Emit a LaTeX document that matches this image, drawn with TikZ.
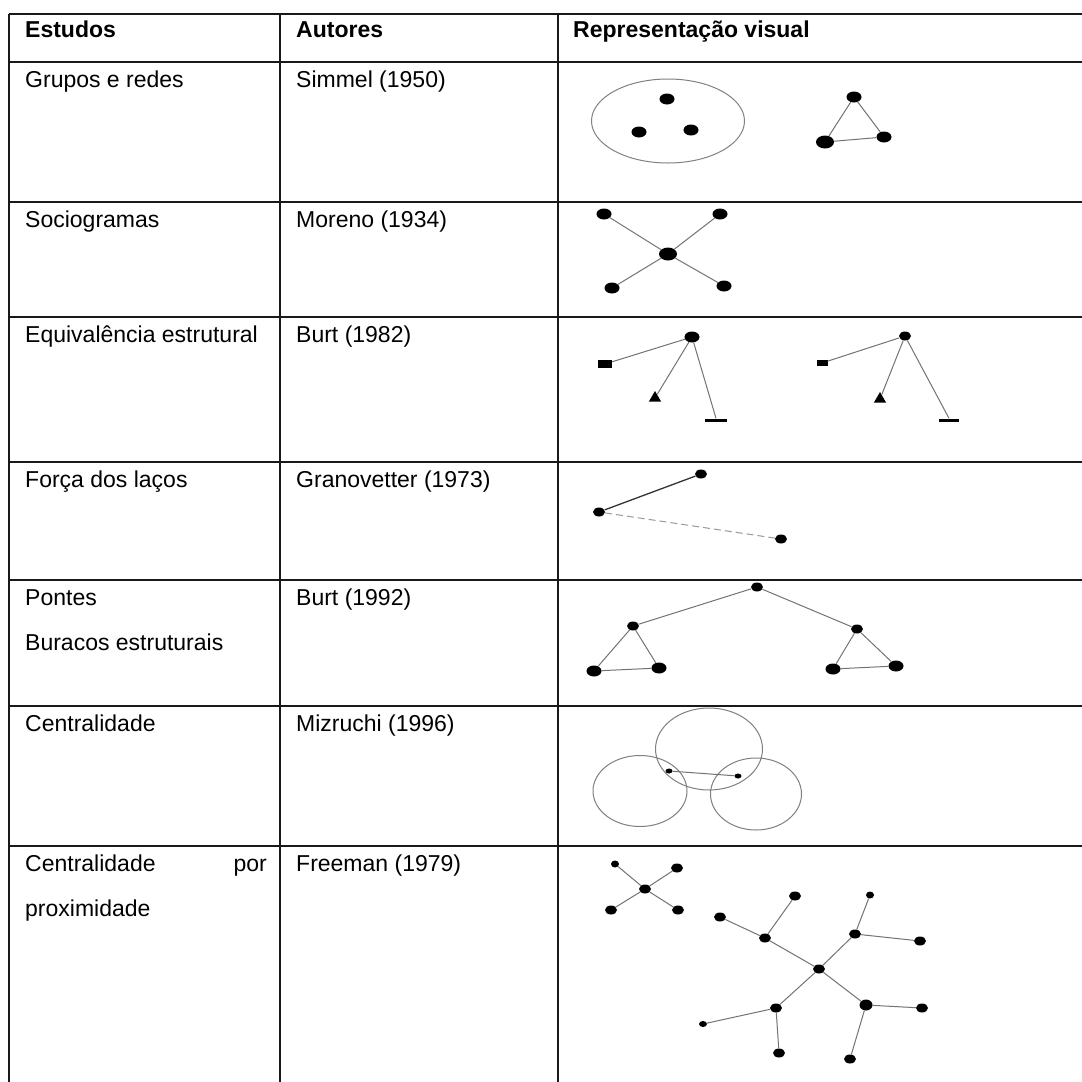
\documentclass[tikz,border=0pt]{standalone}
\usepackage{fontspec}
\setmainfont{Liberation Sans}
\usetikzlibrary{shapes.geometric}
\begin{document}
\begin{tikzpicture}[x=1pt,y=-1pt,
  rule/.style={line width=1.5pt, black!90},
  edge/.style={line width=1pt, black!55},
  strongtie/.style={line width=1.3pt, black!80},
  weaktie/.style={line width=1pt, black!40, dash pattern=on 7pt off 4pt},
  dot/.style={ellipse, fill=black, inner sep=0pt, minimum width=15pt, minimum height=11pt},
  bigdot/.style={dot, minimum width=18pt, minimum height=13pt},
  smalldot/.style={dot, minimum width=12pt, minimum height=9pt},
  tinydot/.style={dot, minimum width=7pt, minimum height=5pt},
  sqnode/.style={rectangle, fill=black, inner sep=0pt, minimum width=14pt, minimum height=8pt},
  trinode/.style={regular polygon, regular polygon sides=3, fill=black, inner sep=0pt, minimum size=14pt},
  barnode/.style={rectangle, fill=black, inner sep=0pt, minimum width=22pt, minimum height=3pt},
  txt/.style={anchor=base west, inner sep=0pt, font=\fontsize{23}{27}\selectfont},
  head/.style={txt, font=\fontsize{23}{27}\selectfont\bfseries},
  ring/.style={ellipse, draw=black!50, line width=1pt, inner sep=0pt},
]
\fill[white] (0,0) rectangle (1082,1082);
\useasboundingbox (0,0) rectangle (1082,1082);

% table rules
\foreach \y in {14,62,202,317,462,580,706,846} \draw[rule] (9,\y) -- (1082,\y);
\foreach \x in {9,280,558} \draw[rule] (\x,14) -- (\x,1082);

% header
\node[head] (hEst) at (25,37) {Estudos};
\node[head] (hAut) at (296,37) {Autores};
\node[head] (hRep) at (573,37) {Representação visual};

% first two columns
\node[txt] (e1) at (25,87) {Grupos e redes};
\node[txt] (a1) at (296,87) {Simmel (1950)};
\node[txt] (e2) at (25,227) {Sociogramas};
\node[txt] (a2) at (296,227) {Moreno (1934)};
\node[txt] (e3) at (25,342) {Equivalência estrutural};
\node[txt] (a3) at (296,342) {Burt (1982)};
\node[txt] (e4) at (25,487) {Força dos laços};
\node[txt] (a4) at (296,487) {Granovetter (1973)};
\node[txt] (e5) at (25,605) {Pontes};
\node[txt] (e5b) at (25,650) {Buracos estruturais};
\node[txt] (a5) at (296,605) {Burt (1992)};
\node[txt] (e6) at (25,731) {Centralidade};
\node[txt] (a6) at (296,731) {Mizruchi (1996)};
\node[txt] (e7) at (25,871) {Centralidade};
\node[txt, anchor=base east] (e7r) at (267,871) {por};
\node[txt] (e7b) at (25,916) {proximidade};
\node[txt] (a7) at (296,871) {Freeman (1979)};

% groups and networks
\node[ring, minimum width=153pt, minimum height=84pt] (grp) at (668,121) {};
\node[dot] (g1) at (667,99) {};
\node[dot] (g2) at (639,132) {};
\node[dot] (g3) at (691,130) {};
\node[dot] (t1) at (854,97) {};
\node[bigdot] (t2) at (825,142) {};
\node[dot] (t3) at (884,137) {};
\draw[edge] (t1) -- (t2) -- (t3) -- (t1);

% sociogram
\node[bigdot] (sc) at (668,254) {};
\node[dot] (s1) at (604,214) {};
\node[dot] (s2) at (720,214) {};
\node[dot] (s3) at (612,288) {};
\node[dot] (s4) at (724,286) {};
\foreach \n in {s1,s2,s3,s4} \draw[edge] (sc) -- (\n);

% structural equivalence
\node[dot] (q1) at (692,337) {};
\node[sqnode] (q1s) at (605,364) {};
\node[trinode] (q1t) at (655,398) {};
\node[barnode] (q1b) at (716,420) {};
\draw[edge] (q1) -- (q1s);
\draw[edge] (q1) -- (q1t);
\draw[edge] (q1) -- (q1b.north);
\node[smalldot] (q2) at (905,336) {};
\node[sqnode, minimum width=11pt, minimum height=6pt] (q2s) at (822,363) {};
\node[trinode] (q2t) at (880,399) {};
\node[barnode, minimum width=20pt] (q2b) at (949,420) {};
\draw[edge] (q2) -- (q2s);
\draw[edge] (q2) -- (q2t);
\draw[edge] (q2) -- (q2b.north);

% strength of ties
\node[smalldot] (f1) at (701,474) {};
\node[smalldot] (f2) at (599,512) {};
\node[smalldot] (f3) at (781,539) {};
\draw[strongtie] (f2) -- (f1);
\draw[weaktie] (f2) -- (f3);

% bridges and structural holes
\node[smalldot] (p0) at (757,587) {};
\node[smalldot] (pl) at (633,626) {};
\node[dot] (pl1) at (594,671) {};
\node[dot] (pl2) at (659,668) {};
\node[smalldot] (pr) at (857,629) {};
\node[dot] (pr1) at (833,669) {};
\node[dot] (pr2) at (896,666) {};
\draw[edge] (pl) -- (p0) -- (pr);
\draw[edge] (pl) -- (pl1) -- (pl2) -- (pl);
\draw[edge] (pr) -- (pr1) -- (pr2) -- (pr);

% centrality
\node[ring, minimum width=107pt, minimum height=82pt] (c1) at (709,749) {};
\node[ring, minimum width=94pt, minimum height=71pt] (c2) at (640,791) {};
\node[ring, minimum width=91pt, minimum height=72pt] (c3) at (756,794) {};
\node[tinydot] (cd1) at (669,771) {};
\node[tinydot] (cd2) at (738,776) {};
\draw[edge] (cd1) -- (cd2);

% closeness centrality: small star
\node[smalldot] (k0) at (645,889) {};
\node[tinydot, minimum width=8pt, minimum height=7pt] (k1) at (615,864) {};
\node[smalldot] (k2) at (677,868) {};
\node[smalldot] (k3) at (611,910) {};
\node[smalldot] (k4) at (678,910) {};
\foreach \n in {k1,k2,k3,k4} \draw[edge] (k0) -- (\n);

% closeness centrality: tree
\node[smalldot] (m0) at (819,969) {};
\node[smalldot] (m1) at (765,938) {};
\node[smalldot] (m1a) at (720,917) {};
\node[smalldot] (m1b) at (795,896) {};
\node[smalldot] (m2) at (855,934) {};
\node[tinydot, minimum width=8pt, minimum height=7pt] (m2a) at (870,895) {};
\node[smalldot] (m2b) at (920,941) {};
\node[smalldot] (m3) at (776,1008) {};
\node[tinydot, minimum width=8pt, minimum height=6pt] (m3a) at (703,1024) {};
\node[smalldot] (m3b) at (779,1053) {};
\node[smalldot, minimum width=13pt, minimum height=11pt] (m4) at (866,1005) {};
\node[smalldot] (m4a) at (922,1008) {};
\node[smalldot] (m4b) at (850,1059) {};
\foreach \n in {m1,m2,m3,m4} \draw[edge] (m0) -- (\n);
\draw[edge] (m1) -- (m1a);
\draw[edge] (m1) -- (m1b);
\draw[edge] (m2) -- (m2a);
\draw[edge] (m2) -- (m2b);
\draw[edge] (m3) -- (m3a);
\draw[edge] (m3) -- (m3b);
\draw[edge] (m4) -- (m4a);
\draw[edge] (m4) -- (m4b);
\end{tikzpicture}
\end{document}
